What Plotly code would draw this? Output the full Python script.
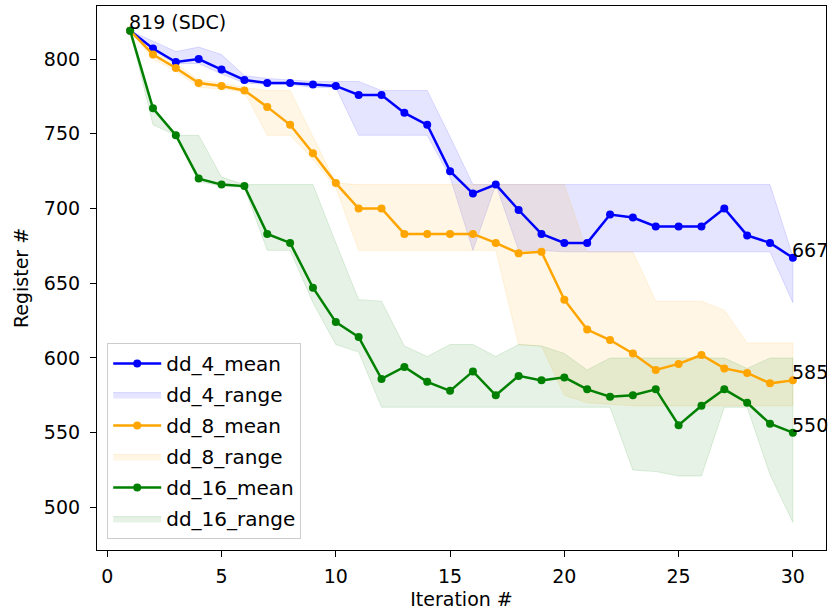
import plotly.graph_objects as go

iterations = list(range(1, 31))

dd4_mean = [819, 807, 798, 800, 793, 786, 784, 784, 783, 782, 776, 776, 764, 756, 725,
            710, 716, 699, 683, 677, 677, 696, 694, 688, 688, 688, 700, 682, 677, 667]
dd4_upper = [819, 812, 805, 808, 803, 789, 787, 786, 785, 785, 785, 779, 779, 779, 748,
             716, 716, 716, 716, 716, 716, 716, 716, 716, 716, 716, 716, 716, 716, 668]
dd4_lower = [819, 806, 797, 797, 790, 784, 783, 783, 781, 781, 749, 749, 749, 749, 721,
             672, 716, 672, 672, 671, 671, 671, 671, 671, 671, 671, 671, 671, 671, 637]

dd8_mean = [819, 803, 794, 784, 782, 779, 768, 756, 737, 717, 700, 700, 683, 683, 683,
            683, 677, 670, 671, 639, 619, 612, 603, 592, 596, 602, 593, 590, 583, 585]
dd8_upper = [819, 805, 797, 786, 784, 781, 779, 779, 748, 717, 716, 716, 716, 716, 716,
             716, 716, 716, 716, 716, 671, 671, 671, 638, 638, 638, 632, 610, 610, 610]
dd8_lower = [819, 800, 792, 781, 780, 778, 749, 749, 733, 714, 672, 672, 672, 672, 672,
             672, 672, 609, 608, 575, 570, 569, 568, 568, 568, 568, 568, 568, 568, 568]

dd16_mean = [819, 767, 749, 720, 716, 715, 683, 677, 647, 624, 614, 586, 594, 584, 578,
             591, 575, 588, 585, 587, 579, 574, 575, 579, 555, 568, 579, 570, 556, 550]
dd16_upper = [819, 767, 749, 749, 721, 716, 716, 716, 716, 677, 639, 638, 608, 601, 609,
              609, 601, 609, 608, 603, 592, 600, 600, 600, 600, 600, 600, 593, 600, 600]
dd16_lower = [819, 756, 749, 718, 715, 714, 672, 672, 637, 609, 604, 567, 567, 567, 567,
              567, 567, 567, 567, 567, 567, 567, 525, 524, 521, 521, 567, 567, 522, 490]

start_label = "819 (SDC)"

series = [
    ("dd_4", dd4_mean, dd4_upper, dd4_lower, (0, 0, 255)),
    ("dd_8", dd8_mean, dd8_upper, dd8_lower, (255, 165, 0)),
    ("dd_16", dd16_mean, dd16_upper, dd16_lower, (0, 128, 0)),
]

FONT = "DejaVu Sans"
FS = 20

fig = go.Figure()
rank = 1
for name, mean, up, lo, (r, g, b) in series:
    fig.add_trace(go.Scatter(
        x=iterations + iterations[::-1],
        y=up + lo[::-1],
        fill="toself",
        mode="lines",
        line=dict(color=f"rgba({r},{g},{b},0.12)", width=1),
        fillcolor=f"rgba({r},{g},{b},0.1)",
        name=f"{name}_range",
        legendgroup=f"{name}_range",
        legendrank=rank + 1,
        hoverinfo="skip",
    ))
    rank += 2
rank = 1
for name, mean, up, lo, (r, g, b) in series:
    fig.add_trace(go.Scatter(
        x=iterations, y=mean,
        mode="lines+markers",
        line=dict(color=f"rgb({r},{g},{b})", width=2.5),
        marker=dict(color=f"rgb({r},{g},{b})", size=8),
        name=f"{name}_mean",
        legendgroup=f"{name}_mean",
        legendrank=rank,
    ))
    rank += 2

annotations = [dict(x=iterations[0], y=dd4_mean[0], text=start_label,
                    xanchor="left", yanchor="bottom", showarrow=False, yshift=-4, xshift=-3,
                    font=dict(family=FONT, size=FS - 1, color="black"))]
for name, mean, up, lo, c in series:
    annotations.append(dict(x=iterations[-1], y=mean[-1], text=str(mean[-1]),
                            xanchor="left", yanchor="bottom", showarrow=False,
                            yshift=-5, xshift=-3,
                            font=dict(family=FONT, size=FS - 1, color="black")))

fig.update_layout(
    width=829, height=611,
    margin=dict(l=97, r=3, t=6, b=61),
    paper_bgcolor="white", plot_bgcolor="white",
    font=dict(family=FONT, size=FS - 1, color="black"),
    showlegend=True,
    legend=dict(x=0.014, y=0.02, xanchor="left", yanchor="bottom",
                bgcolor="rgba(255,255,255,0.8)", bordercolor="#cccccc", borderwidth=1,
                itemwidth=48, tracegroupgap=2, traceorder="grouped",
                font=dict(family=FONT, size=FS)),
    annotations=annotations,
)
fig.update_xaxes(range=[-0.45, 31.45], tickvals=[0, 5, 10, 15, 20, 25, 30],
                 showgrid=False, zeroline=False, showline=True, linecolor="black",
                 linewidth=1.2, mirror=True, ticks="outside", ticklen=6, tickcolor="black",
                 ticklabelstandoff=3,
                 title=dict(text="Iteration #", standoff=6, font=dict(size=19)))
fig.update_yaxes(range=[471.5, 835.5], tickvals=[500, 550, 600, 650, 700, 750, 800],
                 showgrid=False, zeroline=False, showline=True, linecolor="black",
                 linewidth=1.2, mirror=True, ticks="outside", ticklen=6, tickcolor="black",
                 ticklabelstandoff=6,
                 title=dict(text="Register #", standoff=10, font=dict(size=19)))

fig.write_html("out.html")
